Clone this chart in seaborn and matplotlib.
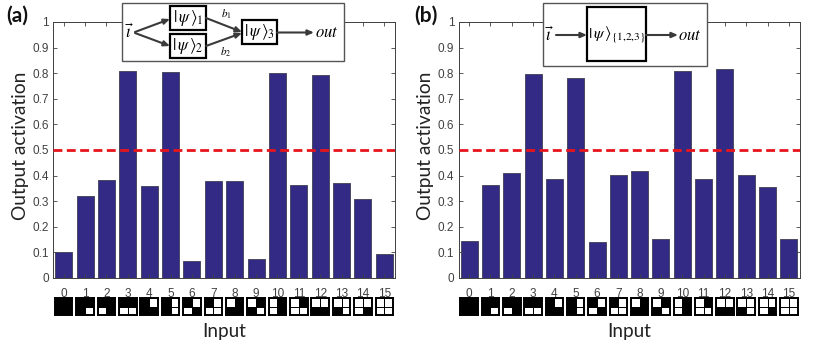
import numpy as np
import matplotlib
matplotlib.use("Agg")
import matplotlib.pyplot as plt
from matplotlib.patches import Rectangle
import seaborn as sns

W, H = 831, 345

inputs = list(range(16))
values_a = [0.100, 0.320, 0.382, 0.810, 0.360, 0.805, 0.068, 0.378, 0.377, 0.076,
            0.799, 0.365, 0.794, 0.370, 0.310, 0.094]
values_b = [0.143, 0.362, 0.410, 0.797, 0.388, 0.781, 0.142, 0.403, 0.418, 0.151,
            0.810, 0.388, 0.817, 0.402, 0.355, 0.153]
y_ticks = [0, 0.1, 0.2, 0.3, 0.4, 0.5, 0.6, 0.7, 0.8, 0.9, 1]
y_labels = ["0", "0.1", "0.2", "0.3", "0.4", "0.5", "0.6", "0.7", "0.8", "0.9", "1"]
threshold = 0.5

BAR_COLOR = "#332a86"
AXIS_COLOR = "#404040"
TITLE_FONT = "Lato"

sns.set_theme(style="white")
plt.rcParams["font.family"] = ["Liberation Sans", "DejaVu Sans"]
plt.rcParams["mathtext.fontset"] = "stix"


def px_axes(fig, left, right, top, bottom):
    return fig.add_axes([left / W, 1 - bottom / H, (right - left) / W, (bottom - top) / H])


def draw_panel(ax, values):
    sns.barplot(x=inputs, y=values, ax=ax, color=BAR_COLOR, saturation=1, width=0.8,
                edgecolor="#4a4a60", linewidth=0.7)
    ax.axhline(threshold, color="#e8141c", linestyle=(0, (3.2, 1.6)), linewidth=2, zorder=4)
    ax.set_xlim(-0.5, 15.5)
    ax.set_ylim(0, 1)
    ax.set_yticks(y_ticks)
    ax.set_yticklabels(y_labels)
    ax.set_axisbelow(False)
    ax.tick_params(axis="both", direction="in", length=3, width=0.6, color=AXIS_COLOR,
                   labelcolor=AXIS_COLOR, labelsize=8.5, top=True, right=True, bottom=True,
                   left=True, pad=3)
    ax.tick_params(axis="x", pad=7)
    for s in ax.spines.values():
        s.set_visible(True)
        s.set_color(AXIS_COLOR)
        s.set_linewidth(0.7)
    ax.set_zorder(2)

    # 2x2 input patterns under the tick labels, a set bit is a white cell
    for n in inputs:
        cells = np.array([[(n >> 3) & 1, (n >> 2) & 1], [(n >> 1) & 1, n & 1]])
        sub = ax.inset_axes([n - 0.41, -0.146, 0.82, 0.068], transform=ax.get_xaxis_transform())
        sns.heatmap(cells, ax=sub, cmap=["black", "white"], vmin=0, vmax=1, cbar=False,
                    linewidths=0.7, linecolor="black", xticklabels=False, yticklabels=False)
        for s in sub.spines.values():
            s.set_visible(True)
            s.set_color("black")
            s.set_linewidth(1.4)


def box(ov, x0, y0, x1, y1, edge="black", lw=1.6):
    ov.add_patch(Rectangle((x0, y0), x1 - x0, y1 - y0, facecolor="white", edgecolor=edge,
                           linewidth=lw, zorder=6))


def arrow(ov, start, end):
    ov.annotate("", xy=end, xytext=start, zorder=7,
                arrowprops=dict(arrowstyle="-|>,head_length=0.3,head_width=0.13", color="#3a3a3a",
                                lw=1.5, shrinkA=0, shrinkB=0))


def label(ov, x, y, s, size):
    ov.text(x, y, s, fontsize=size, ha="center", va="center", color="black", zorder=8)


fig = plt.figure(figsize=(W / 100, H / 100), dpi=100)
ax_a = px_axes(fig, 53, 395, 22, 278)
ax_b = px_axes(fig, 458.5, 799.5, 22, 278)
draw_panel(ax_a, values_a)
draw_panel(ax_b, values_b)

# overlay in pixel coordinates for the labels and the network diagrams
ov = fig.add_axes([0, 0, 1, 1], zorder=5)
ov.set_xlim(0, W)
ov.set_ylim(H, 0)
ov.axis("off")

for cx, tag, tag_x in [(224, "(a)", 17.5), (629, "(b)", 425.5)]:
    ov.text(cx, 331, "Input", family=TITLE_FONT, fontsize=13.6, ha="center", va="center", color="#222222")
    ov.text(tag_x, 15.5, tag, family=TITLE_FONT, fontsize=15, weight="bold", ha="center", va="center", color="#111111")
for x in (21, 426):
    ov.text(x, 146, "Output activation", family=TITLE_FONT, fontsize=13.8, rotation=90,
            ha="center", va="center", color="#222222")

# diagram (a)
box(ov, 122, 3, 344, 61, edge="#555555", lw=1.0)
box(ov, 170, 6, 206, 30)
box(ov, 170, 34, 206, 58)
box(ov, 242, 20, 277, 44)
label(ov, 188, 18, r"$|\,\psi\,\rangle_1$", 12)
label(ov, 188, 46, r"$|\,\psi\,\rangle_2$", 12)
label(ov, 259.5, 32.5, r"$|\,\psi\,\rangle_3$", 12)
label(ov, 130, 32, r"$\vec{\imath}$", 12)
label(ov, 327, 32.5, r"$out$", 12)
label(ov, 226, 14, r"$b_1$", 8)
label(ov, 226, 52, r"$b_2$", 8)
arrow(ov, (135, 32), (170, 19))
arrow(ov, (135, 33), (170, 46))
arrow(ov, (206, 18), (242, 32))
arrow(ov, (206, 46), (242, 33))
arrow(ov, (277, 32.5), (314, 32.5))

# diagram (b)
box(ov, 543, 3, 707, 66, edge="#555555", lw=1.0)
box(ov, 587, 7, 646, 61)
label(ov, 616.5, 35.5, r"$|\,\psi\,\rangle_{\{1{,}2{,}3\}}$", 11.6)
label(ov, 550, 34.5, r"$\vec{\imath}$", 12)
label(ov, 690, 35, r"$out$", 12)
arrow(ov, (556, 35), (587, 35))
arrow(ov, (646, 35), (678, 35))

plt.savefig("out.png", dpi=100)
